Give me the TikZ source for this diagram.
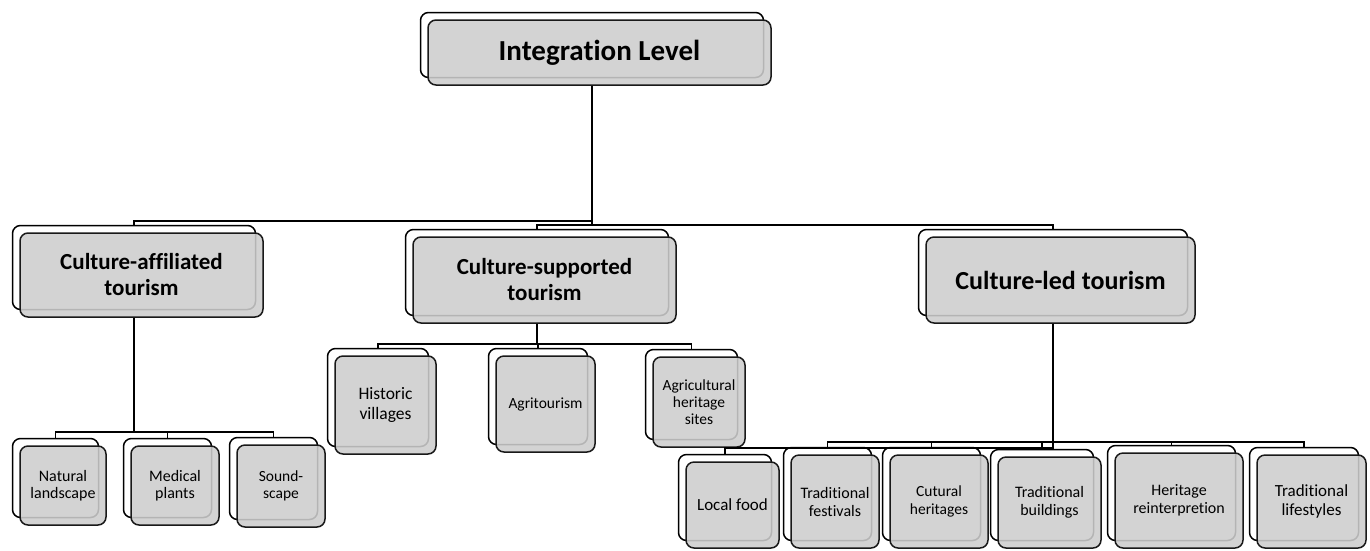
\documentclass[tikz,border=0pt]{standalone}
\usepackage{fontspec}
\setmainfont{Carlito}[Ligatures=NoCommon]
\usetikzlibrary{shadows}
\definecolor{boxgrey}{HTML}{CDCDCD}

\begin{document}
\begin{tikzpicture}[x=1pt,y=-1pt,
 unit/.style={draw=black!90,line width=1.5pt,fill=boxgrey,fill opacity=.88,text opacity=1,rounded corners=8pt,align=center,inner sep=2pt,
  general shadow={fill=white,fill opacity=1,draw=black,line width=1.5pt,shadow xshift=-7.5pt,shadow yshift=7.5pt}},
 link/.style={line width=1.5pt}]
 \useasboundingbox(0,0)rectangle(1370,550);
 % top and second level
 \node[unit,minimum width=343pt,minimum height=65pt,font=\bfseries\fontsize{29}{32}\selectfont](il)at(599.5,52.5){Integration Level};
 \node[unit,minimum width=243pt,minimum height=84pt,font=\bfseries\fontsize{23}{26}\selectfont](ca)at(141.5,275){Culture-affiliated\\tourism};
 \node[unit,minimum width=263pt,minimum height=86pt,font=\bfseries\fontsize{23}{26}\selectfont](cs)at(544.5,280){Culture-supported\\tourism};
 \node[unit,minimum width=269pt,minimum height=86pt,font=\bfseries\fontsize{26}{29}\selectfont](cl)at(1060.5,280){Culture-led tourism};
 % leaves
 \foreach \id/\cx/\cy/\bw/\bh/\fs/\bs/\txt in {nl/63/485.5/86/79/16/17.5/{Natural\\landscape},mp/175/485.5/88/79/16/17.5/{Medical\\plants},ss/281/486/88/82/15.5/17/{Sound-\\scape},
  hv/385.5/405/101/98/17.5/19.5/{Historic\\villages},ag/545.5/404/99/96/15.5/17/Agritourism,ah/699/402/92/90/15.5/17/{Agricultural\\heritage\\sites},
  lf/732.5/505/93/86/17/18.5/{Local food},tf/835/501.5/88/93/16/18/{Traditional\\festivals},ch/939/501.5/98/93/15.5/18/{Cutural\\heritages},
  tb/1049.5/502.5/103/91/16/18/{Traditional\\buildings},hr/1179/500.5/128/95/16/18/{Heritage\\reinterpretion},tl/1311.5/501.5/109/93/17/19/{Traditional\\lifestyles}}{
  \node[unit,minimum width=\bw pt,minimum height=\bh pt,font=\fontsize{\fs}{\bs}\selectfont](\id)at(\cx,\cy){\txt};}
 % connectors, elbows into the back copy of each box
 \foreach \up/\kid/\drop in {il/ca/135,il/cs/139,il/cl/139,ca/nl/114,ca/mp/114,ca/ss/114,cs/hv/20,cs/ag/20,cs/ah/20,
  cl/lf/124,cl/tf/118,cl/ch/118,cl/tb/118,cl/hr/118,cl/tl/118}{
  \draw[link]([xshift=-7.5pt]\up.south)--++(0,\drop)-|([shift={(-7.5pt,7.5pt)}]\kid.north);}
\end{tikzpicture}
\end{document}
